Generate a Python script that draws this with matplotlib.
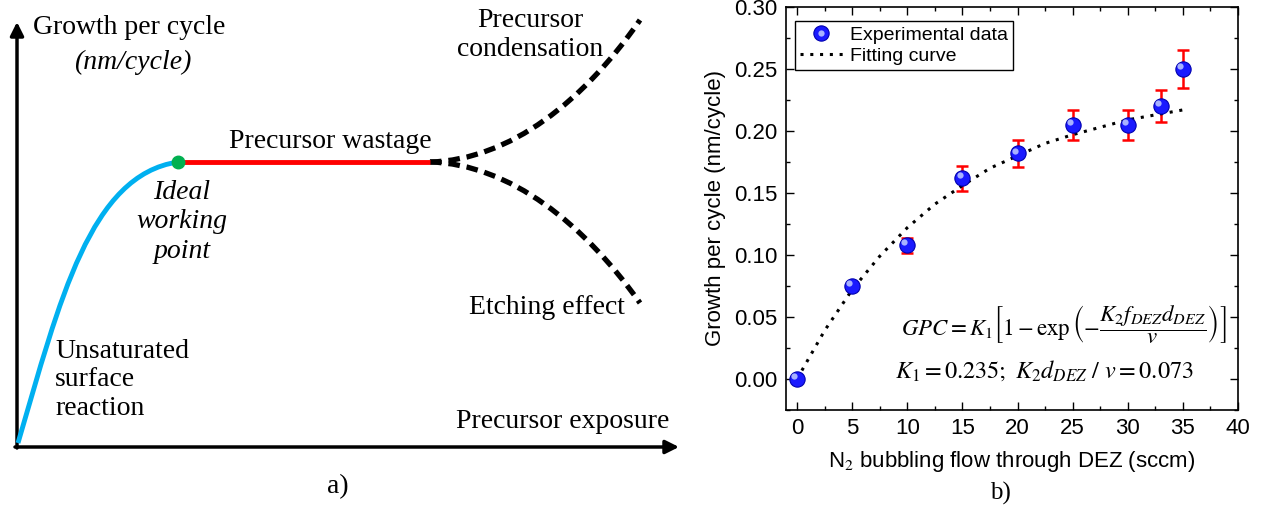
import matplotlib
matplotlib.use('Agg')
import matplotlib.pyplot as plt
from matplotlib.transforms import ScaledTranslation
from matplotlib.legend_handler import HandlerTuple
from matplotlib.path import Path
from matplotlib.patches import PathPatch
import numpy as np

plt.rcParams['mathtext.fontset'] = 'stix'

# ---- panel b) data ----
flow = [0, 5, 10, 15, 20, 25, 30, 33, 35]
gpc = [0.000, 0.075, 0.108, 0.162, 0.182, 0.205, 0.205, 0.220, 0.250]
gpc_err = [0.000, 0.003, 0.006, 0.010, 0.011, 0.012, 0.012, 0.013, 0.015]

fit_x = [0, 2.5, 5, 7.5, 10, 12.5, 15, 17.5, 20, 22.5, 25, 27.5, 30, 32.5, 35]
fit_y = [0.000, 0.039, 0.072, 0.099, 0.122, 0.141, 0.156, 0.170, 0.180,
         0.190, 0.197, 0.203, 0.209, 0.213, 0.217]

# ---- panel a) schematic, bezier control points (pixel-like units) ----
rise_pts = [(18, 443), (60, 300), (90, 175), (178, 162)]
work_pt = (178, 162)
waste_x = [178, 430]
waste_y = [162, 162]
up_pts = [(430, 162), (510, 160), (585, 100), (640, 20)]
down_pts = [(430, 162), (510, 164), (585, 225), (640, 303)]


def bezier(ax, pts, **kw):
    codes = [Path.MOVETO, Path.CURVE4, Path.CURVE4, Path.CURVE4]
    ax.add_patch(PathPatch(Path(pts, codes), fill=False, **kw))


fig = plt.figure(figsize=(12.63, 5.08), dpi=100)

# ================= a) =================
axa = fig.add_axes([0, 0, 690 / 1263, 1])
axa.set_xlim(0, 690)
axa.set_ylim(508, 0)
axa.axis('off')

serif = 'Liberation Serif'
axa.annotate('', xy=(17, 22), xytext=(17, 448),
             arrowprops=dict(arrowstyle='-|>', lw=2.5, color='black',
                             mutation_scale=20, shrinkA=0, shrinkB=0))
axa.annotate('', xy=(679, 447), xytext=(15, 447),
             arrowprops=dict(arrowstyle='-|>', lw=2.5, color='black',
                             mutation_scale=20, shrinkA=0, shrinkB=0))

bezier(axa, rise_pts, edgecolor='#00b0f0', lw=3.5, capstyle='butt', zorder=3)
axa.plot(waste_x, waste_y, color='#ff0000', lw=3.5, solid_capstyle='butt', zorder=3)
bezier(axa, up_pts, edgecolor='black', lw=3.8, ls=(0, (2.2, 1.3)), zorder=2)
bezier(axa, down_pts, edgecolor='black', lw=3.8, ls=(0, (2.2, 1.3)), zorder=2)
axa.plot(*work_pt, 'o', color='#00b050', ms=9, zorder=4)

fs = 20
axa.text(33, 28, 'Growth per cycle', fontsize=fs, family=serif, va='center', ha='left')
axa.text(133, 62, '(nm/cycle)', fontsize=fs, family=serif, style='italic', va='center', ha='center')
axa.text(330, 142, 'Precursor wastage', fontsize=fs, family=serif, va='center', ha='center')
axa.text(182, 222, 'Ideal\nworking\npoint', fontsize=fs, family=serif, style='italic',
         va='center', ha='center', linespacing=1.22)
axa.text(530, 35, 'Precursor\ncondensation', fontsize=fs, family=serif,
         va='center', ha='center', linespacing=1.2)
axa.text(547, 308, 'Etching effect', fontsize=fs, family=serif, va='center', ha='center')
axa.text(55, 380, 'Unsaturated\nsurface\nreaction', fontsize=fs, family=serif,
         va='center', ha='left', linespacing=1.2)
axa.text(563, 422, 'Precursor exposure', fontsize=fs, family=serif, va='center', ha='center')
axa.text(338, 487, 'a)', fontsize=fs, family=serif, va='center', ha='center')

# ================= b) =================
ax = fig.add_axes([786 / 1263, 98 / 508, 452 / 1263, 403 / 508])
sans = 'Liberation Sans'

ax.errorbar(flow, gpc, yerr=gpc_err, fmt='none', ecolor='#ff0000',
            elinewidth=1.8, capsize=4, capthick=1.8, zorder=2)
fit_line, = ax.plot(fit_x, fit_y, color='black', lw=2.2, ls=(0, (1, 2.2)), zorder=3)
ball, = ax.plot(flow, gpc, 'o', color='#1a1aff', mec='#0000b0', mew=0.8, ms=11,
                ls='none', zorder=4)
shift = ax.transData + ScaledTranslation(-2 / 72, 2 / 72, fig.dpi_scale_trans)
shine, = ax.plot(flow, gpc, 'o', color='#b8c4ff', mec='none', ms=4.5, alpha=0.9,
                 ls='none', transform=shift, zorder=5)

ax.set_xlim(-1, 40)
ax.set_ylim(-0.025, 0.30)
ax.set_xticks(np.arange(0, 41, 5))
ax.set_xticks(np.arange(2.5, 40, 5), minor=True)
ax.set_yticks(np.arange(0, 0.301, 0.05))
ax.set_yticks(np.arange(-0.025, 0.30, 0.05), minor=True)
ax.yaxis.set_major_formatter(matplotlib.ticker.FormatStrFormatter('%.2f'))
ax.tick_params(which='both', direction='in', top=True, right=True, width=1)
ax.tick_params(which='major', length=6, labelsize=16, pad=6)
ax.tick_params(which='minor', length=3)
for lbl in ax.get_xticklabels() + ax.get_yticklabels():
    lbl.set_family(sans)
for sp in ax.spines.values():
    sp.set_linewidth(1.2)

ax.set_xlabel(r'N$_2$ bubbling flow through DEZ (sccm)', fontsize=16, family=sans, labelpad=7)
ax.set_ylabel('Growth per cycle (nm/cycle)', fontsize=16, family=sans, labelpad=6)
plt.rcParams['mathtext.rm'] = sans

leg = ax.legend([(ball, shine), fit_line], ['Experimental data', 'Fitting curve'],
                handler_map={tuple: HandlerTuple(ndivide=1)},
                loc='upper left', bbox_to_anchor=(0.02, 0.965), borderaxespad=0,
                prop={'family': sans, 'size': 14}, fancybox=False, edgecolor='black',
                framealpha=1, handlelength=2.2, handletextpad=0.4,
                borderpad=0.25, labelspacing=0.2)
leg.get_frame().set_linewidth(1.0)

ax.text(24.2, 0.044,
        r'$GPC = K_1\left[1 - \exp\left(-\dfrac{K_2 f_{DEZ} d_{DEZ}}{v}\right)\right]$',
        fontsize=16.5, ha='center', va='center')
ax.text(8.9, 0.007, r'$K_1 = 0.235;\ K_2 d_{DEZ}\ /\ v = 0.073$',
        fontsize=17.5, ha='left', va='center')

fig.text(1000 / 1263, 1 - 493 / 508, 'b)', fontsize=18, family=serif, ha='center', va='center')

fig.savefig('out.png', dpi=100)
